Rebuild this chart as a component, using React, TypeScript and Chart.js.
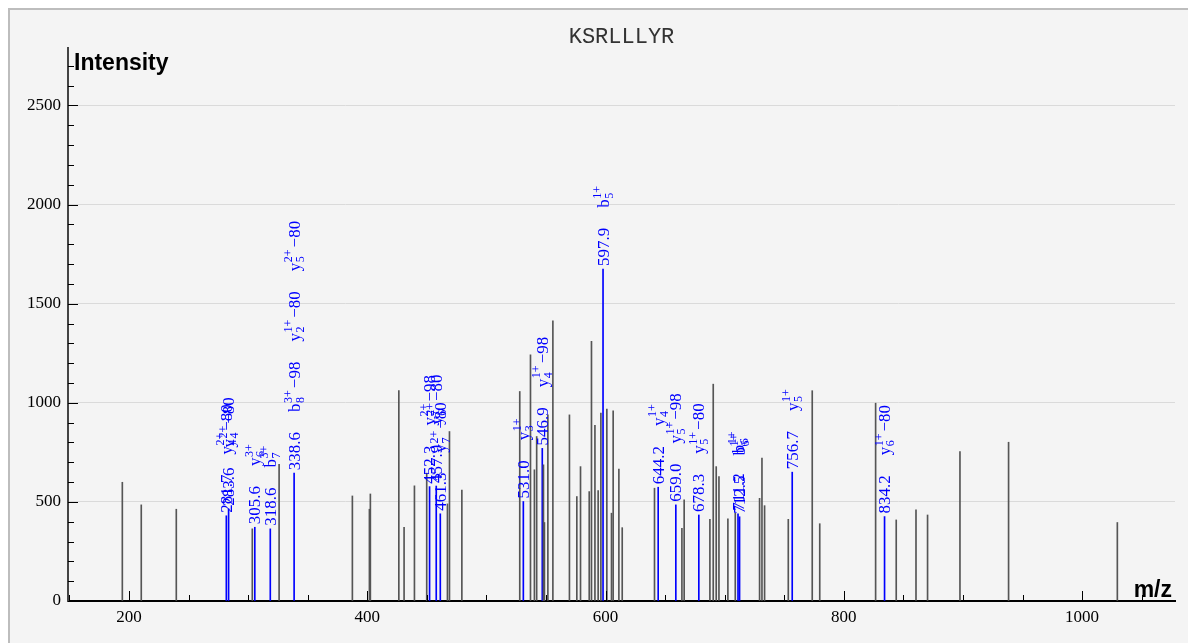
import React, { useEffect, useRef } from "react";
import { Chart, registerables } from "chart.js";

Chart.register(...registerables);

const chartTitle = "KSRLLLYR";
const yAxisTitle = "Intensity";
const xAxisTitle = "m/z";

// x range (m/z) and y range (intensity)
const xMin = 148.8;
const xMax = 1078;
const yMin = 0;
const yMax = 2790;
const xTickValues = [200, 400, 600, 800, 1000];
const yTickValues = [0, 500, 1000, 1500, 2000, 2500];
const xMinorStep = 50;
const yMinorStep = 100;

// unannotated (gray) peaks
const grayMz = [194.4, 210.3, 239.7, 303.5, 326.0, 387.5, 401.8, 402.6, 426.5, 430.9, 439.6, 449.9, 467.3, 469.0, 479.4, 528.0, 537.0, 540.3, 542.2, 547.9, 548.7, 551.6, 555.8, 569.7, 575.9, 579.0, 586.3, 588.2, 591.1, 593.8, 596.1, 601.1, 605.0, 606.4, 611.2, 614.0, 641.1, 664.1, 666.0, 687.6, 690.4, 692.9, 695.2, 702.7, 708.9, 729.3, 731.3, 733.5, 753.4, 773.5, 779.8, 826.7, 844.0, 860.6, 870.3, 897.5, 938.3, 1029.6];
const grayIntensity = [599, 485, 463, 364, 690, 530, 463, 540, 1061, 372, 581, 645, 490, 855, 559, 1057, 1242, 662, 830, 687, 396, 939, 1414, 939, 527, 678, 552, 1310, 886, 557, 948, 968, 443, 960, 665, 370, 569, 367, 510, 412, 1094, 678, 628, 414, 443, 518, 721, 481, 412, 1061, 390, 998, 409, 460, 434, 754, 801, 396];

// annotated (blue) peaks
const ionMz = [281.7, 283.6, 305.6, 318.6, 338.6, 452.3, 457.9, 461.3, 531.0, 546.9, 597.9, 644.2, 659.0, 678.3, 711.2, 712.5, 756.7, 834.2];
const ionIntensity = [430, 465, 372, 364, 645, 577, 580, 440, 502, 770, 1675, 574, 485, 434, 440, 425, 650, 426];
const ionMzLabels = ["281.7", "283.6", "305.6", "318.6", "338.6", "452.3", "457.9", "461.3", "531.0", "546.9", "597.9", "644.2", "659.0", "678.3", "711.2", "712.5", "756.7", "834.2"];
// ion name: base, subscript, superscript, suffix
const ionNames = [
  ["y,4,2+,−80"],
  ["y,4,2+,−80"],
  ["y,6,3+,"],
  ["b,7,3+,"],
  ["b,8,3+,−98", "y,2,1+,−80", "y,5,2+,−80"],
  ["y,7,2+,−98"],
  ["y,6,2+,−80"],
  ["y,7,2+,−80"],
  ["y,3,1+,"],
  ["y,4,1+,−98"],
  ["b,5,1+,"],
  ["y,4,1+,"],
  ["y,5,1+,−98"],
  ["y,5,1+,−80"],
  ["b,6,1+,"],
  ["b,6,1+,"],
  ["y,5,1+,"],
  ["y,6,1+,−80"],
];

const BLUE = "#0000ff";
const GRAY = "#555555";
const MAIN_FONT = '17px "Liberation Serif"';
const SMALL_FONT = '12px "Liberation Serif"';

function drawIonLabel(ctx: CanvasRenderingContext2D, px: number, py: number, label: string, names: string[]) {
  ctx.save();
  ctx.translate(px, py);
  ctx.rotate(-Math.PI / 2);
  ctx.fillStyle = BLUE;
  ctx.textAlign = "left";
  ctx.textBaseline = "alphabetic";
  const base = 5.5;
  let pos = 3;
  ctx.font = MAIN_FONT;
  ctx.fillText(label, pos, base);
  pos += ctx.measureText(label).width + 20;
  names.forEach((n) => {
    const [b, sub, sup, rest] = n.split(",");
    ctx.font = MAIN_FONT;
    ctx.fillText(b, pos, base);
    pos += ctx.measureText(b).width + 0.5;
    ctx.font = SMALL_FONT;
    ctx.fillText(sub, pos, base + 4);
    ctx.fillText(sup, pos, base - 7.5);
    pos += Math.max(ctx.measureText(sub).width, ctx.measureText(sup).width);
    if (rest) {
      ctx.font = MAIN_FONT;
      pos += 2;
      ctx.fillText(rest, pos, base);
      pos += ctx.measureText(rest).width;
    }
    pos += 20;
  });
  ctx.restore();
}

export default function App() {
  const ref = useRef<HTMLCanvasElement>(null);

  useEffect(() => {
    const canvas = ref.current;
    if (!canvas) return;

    const overlay = {
      id: "overlay",
      afterDatasetsDraw(chart: any) {
        const ctx: CanvasRenderingContext2D = chart.ctx;
        const xs = chart.scales.x;
        const ys = chart.scales.y;
        const area = chart.chartArea;
        ctx.save();
        // inward tick marks
        ctx.strokeStyle = "#000";
        ctx.lineWidth = 1;
        ctx.beginPath();
        for (let v = Math.ceil(xMin / xMinorStep) * xMinorStep; v <= xMax; v += xMinorStep) {
          const p = Math.round(xs.getPixelForValue(v)) + 0.5;
          const len = xTickValues.includes(v) ? 10 : 6;
          ctx.moveTo(p, area.bottom);
          ctx.lineTo(p, area.bottom - len);
        }
        for (let v = yMin; v <= yMax; v += yMinorStep) {
          const p = Math.round(ys.getPixelForValue(v)) + 0.5;
          const len = yTickValues.includes(v) ? 10 : 6;
          ctx.moveTo(area.left, p);
          ctx.lineTo(area.left + len, p);
        }
        ctx.stroke();

        // annotations
        ionMz.forEach((mz, i) => {
          const px = xs.getPixelForValue(mz);
          const py = ys.getPixelForValue(ionIntensity[i]);
          drawIonLabel(ctx, px, py, ionMzLabels[i], ionNames[i]);
        });

        // titles
        ctx.fillStyle = "#333";
        ctx.font = '22px "Liberation Mono"';
        ctx.textAlign = "center";
        ctx.textBaseline = "alphabetic";
        ctx.fillText(chartTitle, (area.left + area.right) / 2, 33);

        ctx.fillStyle = "#000";
        ctx.font = 'bold 23px "Liberation Sans"';
        ctx.textAlign = "left";
        ctx.fillText(yAxisTitle, area.left + 6, area.top + 22);
        ctx.textAlign = "right";
        ctx.fillText(xAxisTitle, area.right - 3, area.bottom - 4);
        ctx.restore();
      },
    };

    const chart = new Chart(canvas, {
      type: "bar",
      data: {
        datasets: [
          {
            label: "peaks",
            data: grayMz.map((x, i) => ({ x, y: grayIntensity[i] })),
            backgroundColor: GRAY,
            barThickness: 1,
            grouped: false,
          } as any,
          {
            label: "annotated",
            data: ionMz.map((x, i) => ({ x, y: ionIntensity[i] })),
            backgroundColor: BLUE,
            barThickness: 1,
            grouped: false,
          } as any,
        ],
      },
      options: {
        animation: false,
        responsive: false,
        devicePixelRatio: 1,
        layout: { padding: { left: 0, top: 38, right: 13, bottom: 0 } },
        plugins: {
          legend: { display: false },
          tooltip: { enabled: false },
          title: { display: false },
        },
        scales: {
          x: {
            type: "linear",
            min: xMin,
            max: xMax,
            offset: false,
            grid: { display: false, drawTicks: false, offset: false },
            border: { display: true, color: "#000", width: 2 },
            afterBuildTicks: (s: any) => {
              s.ticks = xTickValues.map((v) => ({ value: v }));
            },
            ticks: {
              padding: 6,
              color: "#000",
              font: { family: '"Liberation Serif"', size: 17 },
              maxRotation: 0,
              autoSkip: false,
              callback: (v: any) => String(v),
            },
            afterFit: (s: any) => {
              s.height = 42;
            },
          },
          y: {
            type: "linear",
            min: yMin,
            max: yMax,
            grid: { display: true, drawTicks: false, color: "#dadada", lineWidth: 1 },
            border: { display: true, color: "#444", width: 2 },
            afterBuildTicks: (s: any) => {
              s.ticks = yTickValues.map((v) => ({ value: v }));
            },
            ticks: {
              padding: 7,
              color: "#000",
              font: { family: '"Liberation Serif"', size: 17 },
              autoSkip: false,
              callback: (v: any) => String(v),
            },
            afterFit: (s: any) => {
              s.width = 58;
            },
          },
        },
      } as any,
      plugins: [overlay],
    });

    return () => chart.destroy();
  }, []);

  return (
    <div
      style={{
        position: "fixed",
        left: 8,
        top: 8,
        width: 1180,
        height: 635,
        boxSizing: "border-box",
        borderLeft: "2px solid #bdbdbd",
        borderTop: "2px solid #bdbdbd",
        background: "#f4f4f4",
        overflow: "hidden",
      }}
    >
      <canvas ref={ref} width={1178} height={633} style={{ display: "block", width: 1178, height: 633 }} />
    </div>
  );
}
